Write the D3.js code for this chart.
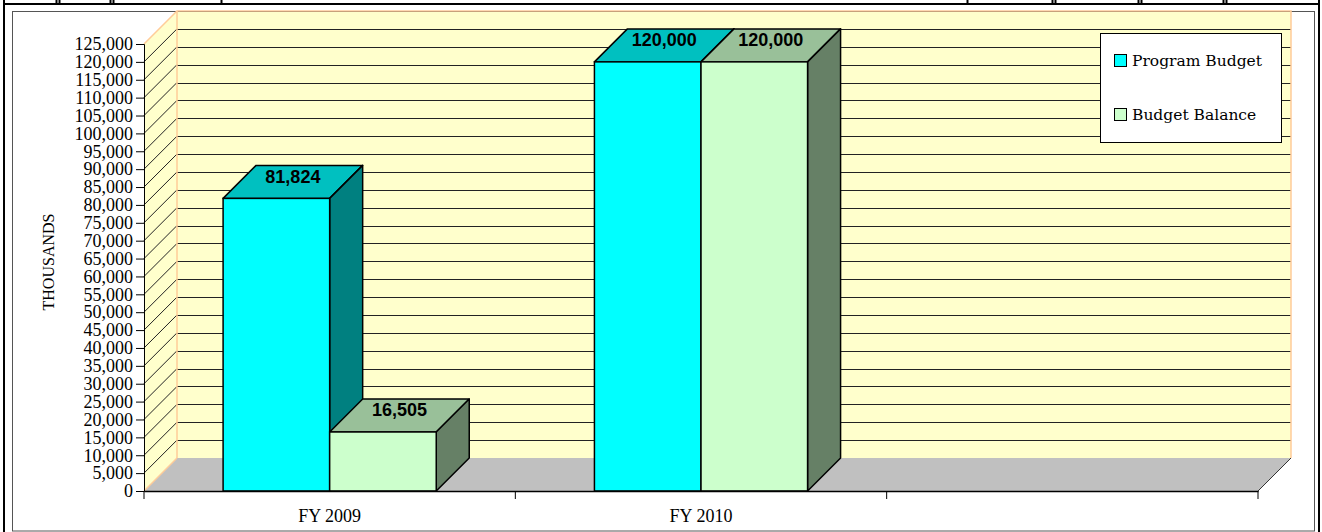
<!DOCTYPE html>
<html lang="en">
<head>
    <meta charset="UTF-8">
    <title>Program Budget vs Budget Balance</title>
    <script src="https://cdn.jsdelivr.net/npm/d3@7"></script>
    <style>
        body { margin: 0; background: #fff; }
        svg { display: block; }
    </style>
</head>
<body>
    <script>
        // data
        let categories = ['FY 2009', 'FY 2010', ''];
        let series = ['Program Budget', 'Budget Balance'];
        let programBudget = [81824, 120000, null];
        let budgetBalance = [16505, 120000, null];
        let yTicks = d3.range(0, 125001, 5000);

        let width = 1322, height = 532;
        let depth = 33;   // 3d offset
        let plot = { left: 144, right: 1258, top: 44, bottom: 491 };

        // colours: front, top, side
        let colors = {
            'Program Budget': { front: '#00ffff', top: '#00c0c0', side: '#008080' },
            'Budget Balance': { front: '#ccffcc', top: '#99c099', side: '#668066' }
        };
        let wallFill = '#ffffcc', wallEdge = '#ffcc99', floorFill = '#c0c0c0';

        let svg = d3.select('body').append('svg')
            .attr('width', width)
            .attr('height', height);

        // page frame / table borders
        let frame = svg.append('g');
        frame.append('line').attr('x1', 3).attr('x2', 1320).attr('y1', 4).attr('y2', 4)
            .attr('stroke', '#000').attr('stroke-width', 2);
        [4, 1319].forEach(x => frame.append('line').attr('x1', x).attr('x2', x)
            .attr('y1', 0).attr('y2', height).attr('stroke', '#000').attr('stroke-width', 2));
        [56, 59, 110, 113, 221, 967, 1052, 1055, 1138, 1141, 1223, 1226].forEach(x =>
            frame.append('line').attr('x1', x + 0.5).attr('x2', x + 0.5).attr('y1', 0).attr('y2', 4)
                .attr('stroke', '#000').attr('stroke-width', 2));
        frame.append('rect').attr('x', 12.5).attr('y', 11.5).attr('width', 1302).attr('height', 519.5)
            .attr('fill', '#fff').attr('stroke', '#555');

        // scales
        let y = d3.scaleLinear().domain([0, 125000]).range([plot.bottom, plot.top]);
        let x0 = d3.scaleBand().domain(categories).range([plot.left, plot.right]);
        let bw = x0.bandwidth();
        let x1 = d3.scaleBand().domain(series).range([bw * 0.213, bw * 0.787]);

        let chart = svg.append('g');
        let pts = a => a.map(p => p.join(',')).join(' ');

        // back wall
        chart.append('rect')
            .attr('x', plot.left + depth).attr('y', plot.top - depth)
            .attr('width', plot.right - plot.left).attr('height', plot.bottom - plot.top)
            .attr('fill', wallFill);
        // left wall
        chart.append('polygon')
            .attr('points', pts([[plot.left, plot.bottom], [plot.left, plot.top],
                [plot.left + depth, plot.top - depth], [plot.left + depth, plot.bottom - depth]]))
            .attr('fill', wallFill);

        // gridlines on walls
        chart.selectAll('.grid').data(yTicks.filter(d => d > 0)).enter().append('line')
            .attr('x1', plot.left + depth).attr('x2', plot.right + depth)
            .attr('y1', d => Math.round(y(d) - depth) + 0.5).attr('y2', d => Math.round(y(d) - depth) + 0.5)
            .attr('stroke', '#222').attr('stroke-width', 1);
        chart.selectAll('.diag').data(yTicks.filter(d => d > 0)).enter().append('line')
            .attr('x1', plot.left).attr('y1', d => y(d))
            .attr('x2', plot.left + depth).attr('y2', d => y(d) - depth)
            .attr('stroke', '#222').attr('stroke-width', 1);

        // wall edges
        chart.append('polyline')
            .attr('points', pts([[plot.left, plot.top], [plot.left + depth, plot.top - depth],
                [plot.right + depth, plot.top - depth], [plot.right + depth, plot.bottom - depth]]))
            .attr('fill', 'none').attr('stroke', wallEdge).attr('stroke-width', 1.5);
        chart.append('line')
            .attr('x1', plot.left + depth).attr('x2', plot.left + depth)
            .attr('y1', plot.top - depth).attr('y2', plot.bottom - depth)
            .attr('stroke', wallEdge).attr('stroke-width', 1.5);

        // floor
        chart.append('polygon')
            .attr('points', pts([[plot.left, plot.bottom], [plot.right, plot.bottom],
                [plot.right + depth, plot.bottom - depth], [plot.left + depth, plot.bottom - depth]]))
            .attr('fill', floorFill);
        chart.append('line')
            .attr('x1', plot.left).attr('y1', plot.bottom)
            .attr('x2', plot.left + depth).attr('y2', plot.bottom - depth)
            .attr('stroke', wallEdge).attr('stroke-width', 1.5);
        chart.append('line')
            .attr('x1', plot.right).attr('y1', plot.bottom)
            .attr('x2', plot.right + depth).attr('y2', plot.bottom - depth)
            .attr('stroke', '#333').attr('stroke-width', 1);

        // bars
        let rows = [];
        categories.forEach((c, i) => {
            [programBudget[i], budgetBalance[i]].forEach((v, j) => {
                if (v != null) rows.push({ cat: c, key: series[j], value: v });
            });
        });

        let bars = chart.selectAll('.bar').data(rows).enter().append('g').attr('class', 'bar');
        bars.each(function (d) {
            let g = d3.select(this);
            let xl = x0(d.cat) + x1(d.key), xr = xl + x1.bandwidth();
            let yt = y(d.value), yb = y(0);
            let c = colors[d.key];
            // top
            g.append('polygon')
                .attr('points', pts([[xl, yt], [xl + depth, yt - depth], [xr + depth, yt - depth], [xr, yt]]))
                .attr('fill', c.top).attr('stroke', '#000').attr('stroke-width', 1.5).attr('stroke-linejoin', 'round');
            // side
            g.append('polygon')
                .attr('points', pts([[xr, yt], [xr + depth, yt - depth], [xr + depth, yb - depth], [xr, yb]]))
                .attr('fill', c.side).attr('stroke', '#000').attr('stroke-width', 1.5).attr('stroke-linejoin', 'round');
            // front
            g.append('rect')
                .attr('x', xl).attr('y', yt).attr('width', xr - xl).attr('height', yb - yt)
                .attr('fill', c.front).attr('stroke', '#000').attr('stroke-width', 1.5);
            // value label
            g.append('text')
                .attr('x', (xl + xr + depth) / 2)
                .attr('y', yt - 15.5)
                .attr('text-anchor', 'middle')
                .attr('font-family', 'Liberation Sans, Arial, sans-serif')
                .attr('font-weight', 'bold')
                .attr('font-size', 18)
                .attr('fill', '#000')
                .text(d3.format(',')(d.value));
        });

        // y axis
        let yAxis = d3.axisLeft(y).tickValues(yTicks).tickSize(8).tickPadding(3).tickFormat(d3.format(','));
        let yg = chart.append('g').attr('transform', `translate(${plot.left},0)`).call(yAxis);
        yg.select('.domain').attr('stroke', '#000');
        yg.selectAll('text').attr('font-family', 'Liberation Serif, Times New Roman, serif')
            .attr('font-size', 18).attr('fill', '#000');

        // x axis
        let xAxis = d3.axisBottom(x0).tickSize(0).tickPadding(18);
        let xg = chart.append('g').attr('transform', `translate(0,${plot.bottom})`).call(xAxis);
        xg.select('.domain').attr('stroke', '#000').attr('stroke-width', 1.5);
        xg.selectAll('text').attr('font-family', 'Liberation Serif, Times New Roman, serif')
            .attr('font-size', 18).attr('fill', '#000');
        // category separators
        let seps = categories.map(c => x0(c)).concat([plot.right]);
        xg.selectAll('.sep').data(seps).enter().append('line')
            .attr('x1', d => d).attr('x2', d => d).attr('y1', 0).attr('y2', 8)
            .attr('stroke', '#000');

        // y axis title
        svg.append('text')
            .attr('transform', `translate(54,262) rotate(-90)`)
            .attr('text-anchor', 'middle')
            .attr('font-family', 'Liberation Serif, Times New Roman, serif')
            .attr('font-size', 16)
            .text('THOUSANDS');

        // legend
        let legend = svg.append('g').attr('transform', 'translate(1100,33)');
        legend.append('rect').attr('x', 0.5).attr('y', 0.5).attr('width', 181).attr('height', 109)
            .attr('fill', '#fff').attr('stroke', '#000');
        let li = legend.selectAll('.item').data(series).enter().append('g')
            .attr('transform', (d, i) => `translate(14,${21 + i * 54})`);
        li.append('rect').attr('x', 0.5).attr('y', 0.5).attr('width', 12).attr('height', 12)
            .attr('fill', d => colors[d].front).attr('stroke', '#000');
        li.append('text').attr('x', 18).attr('y', 12)
            .attr('font-family', 'DejaVu Serif, serif')
            .attr('font-size', 15.5)
            .text(d => d);
    </script>
</body>
</html>
